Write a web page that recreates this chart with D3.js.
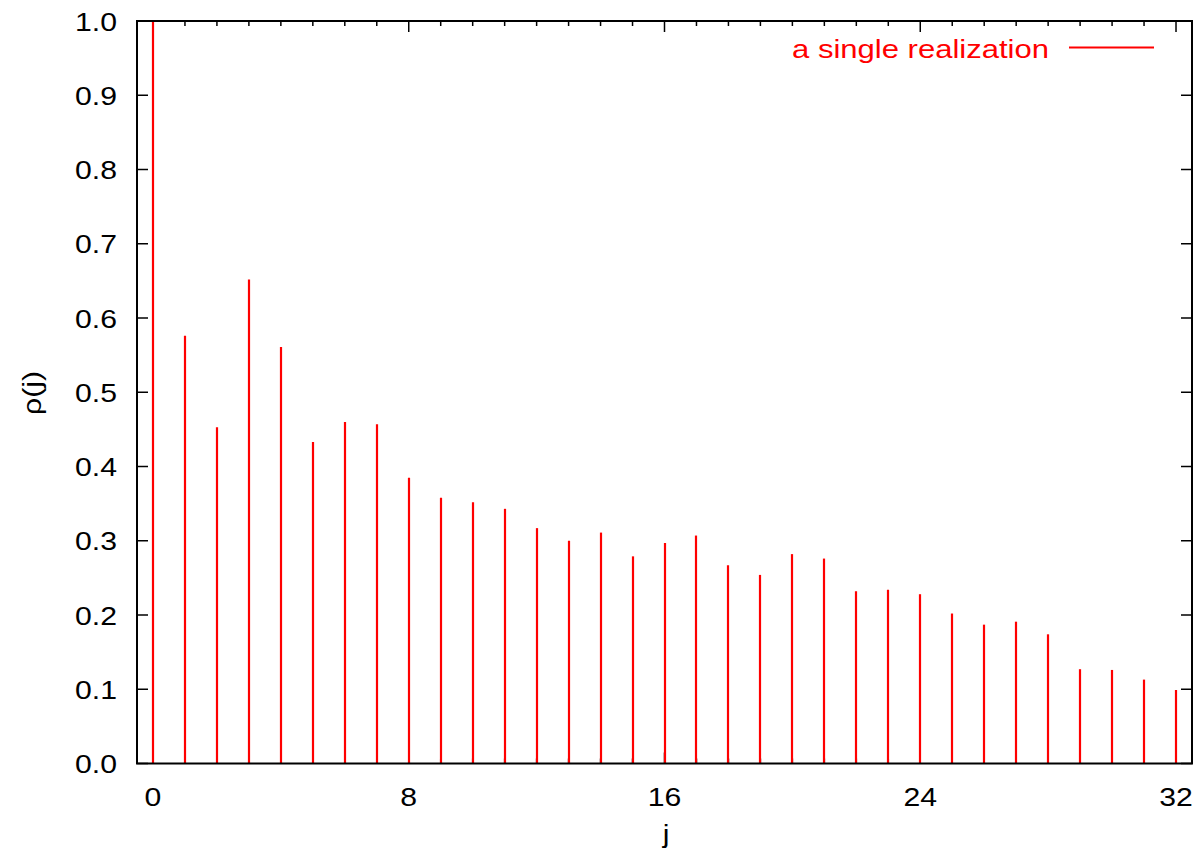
<!DOCTYPE html>
<html>
<head>
<meta charset="utf-8">
<script src="https://cdn.jsdelivr.net/npm/d3@7"></script>
<style>
  body { margin: 0; background: #fff; }
  text { font-family: "Liberation Sans", Arial, sans-serif; }
</style>
</head>
<body>
<div id="main"></div>
<script>
// lag index j and autocorrelation rho(j)
var lags = d3.range(0, 33);
var rho = [1.0, 0.576, 0.453, 0.652, 0.561, 0.433, 0.460, 0.457,
           0.385, 0.358, 0.352, 0.343, 0.317, 0.300, 0.311, 0.279,
           0.297, 0.307, 0.267, 0.254, 0.282, 0.276, 0.232, 0.234,
           0.228, 0.202, 0.187, 0.191, 0.174, 0.127, 0.126, 0.113,
           0.099];
var xTicks = [0, 8, 16, 24, 32];
var yTicks = d3.range(0, 11).map(function(i){ return i / 10; });
var legendLabel = 'a single realization';

var svgWidth = 1200, svgHeight = 861;
var plotLeft = 137, plotRight = 1192, plotTop = 21, plotBottom = 763.5;
var stretch = 1.14;   // the original font is a bit wider than Arial

var svg = d3.select('#main').append('svg')
			.attr('width', svgWidth)
			.attr('height', svgHeight);

var x = d3.scaleLinear().domain([-0.5, 32.5]).range([plotLeft, plotRight]);
var y = d3.scaleLinear().domain([0, 1]).range([plotBottom, plotTop]);

// tick marks, pointing inward on all four sides
var ticks = svg.append('g').style('stroke', '#000').style('stroke-width', 1.5);
lags.forEach(function(d){
	var len = xTicks.indexOf(d) >= 0 ? 11 : 5;
	ticks.append('line').attr('x1', x(d)).attr('x2', x(d))
		.attr('y1', plotBottom).attr('y2', plotBottom - len);
	ticks.append('line').attr('x1', x(d)).attr('x2', x(d))
		.attr('y1', plotTop).attr('y2', plotTop + len);
});
yTicks.forEach(function(d){
	ticks.append('line').attr('x1', plotLeft).attr('x2', plotLeft + 11)
		.attr('y1', y(d)).attr('y2', y(d));
	ticks.append('line').attr('x1', plotRight).attr('x2', plotRight - 11)
		.attr('y1', y(d)).attr('y2', y(d));
});

// impulses, drawn over the tick marks
svg.append('g').selectAll('line')
	.data(lags)
	.enter()
	.append('line')
	.attr('x1', function(d){ return Math.round(x(d)); })
	.attr('x2', function(d){ return Math.round(x(d)); })
	.attr('y1', y(0))
	.attr('y2', function(d){ return y(rho[d]); })
	.style('stroke', '#ff0000')
	.style('stroke-width', 2.2);

// frame
svg.append('rect')
	.attr('x', plotLeft).attr('y', plotTop)
	.attr('width', plotRight - plotLeft).attr('height', plotBottom - plotTop)
	.style('fill', 'none')
	.style('stroke', '#000')
	.style('stroke-width', 2);

// tick labels
svg.append('g').selectAll('text')
	.data(yTicks)
	.enter()
	.append('text')
	.attr('transform', function(d){
		return 'translate(117,' + y(d) + ') scale(' + stretch + ',1)';
	})
	.attr('dy', '0.36em')
	.attr('text-anchor', 'end')
	.style('font-size', '26.5px')
	.text(function(d){ return d3.format('.1f')(d); });

svg.append('g').selectAll('text')
	.data(xTicks)
	.enter()
	.append('text')
	.attr('transform', function(d){
		return 'translate(' + x(d) + ',806) scale(' + stretch + ',1)';
	})
	.attr('text-anchor', 'middle')
	.style('font-size', '26.5px')
	.text(function(d){ return d; });

// axis titles
svg.append('text')
	.attr('transform', 'translate(666,843) scale(' + stretch + ',1)')
	.attr('text-anchor', 'middle')
	.style('font-size', '26.5px')
	.text('j');

svg.append('text')
	.attr('transform', 'translate(41,393) rotate(-90) scale(' + stretch + ',1)')
	.attr('text-anchor', 'middle')
	.style('font-size', '26.5px')
	.text('\u03c1(j)');

// legend
svg.append('text')
	.attr('x', 792)
	.attr('y', 58)
	.attr('textLength', 257)
	.attr('lengthAdjust', 'spacingAndGlyphs')
	.style('font-size', '26.5px')
	.style('fill', '#ff0000')
	.text(legendLabel);

svg.append('line')
	.attr('x1', 1069).attr('x2', 1154)
	.attr('y1', 47.5).attr('y2', 47.5)
	.style('stroke', '#ff0000')
	.style('stroke-width', 2.2);
</script>
</body>
</html>
